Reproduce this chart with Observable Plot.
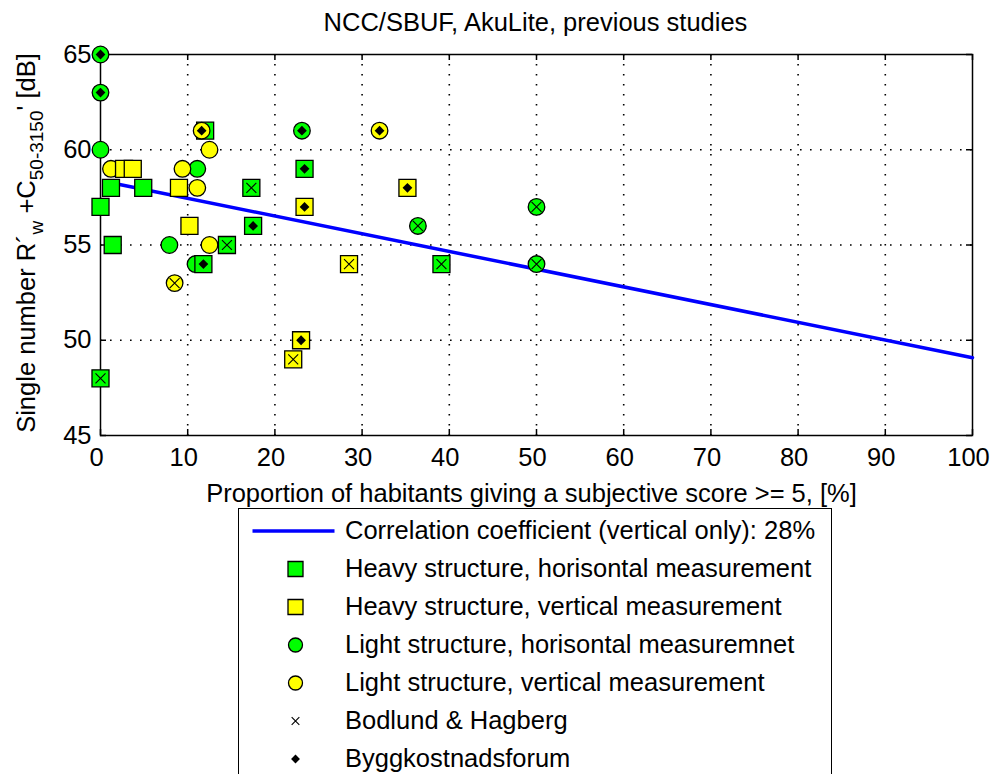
<!DOCTYPE html>
<html><head><meta charset="utf-8">
<script src="https://cdn.jsdelivr.net/npm/d3@7"></script>
<script src="https://cdn.jsdelivr.net/npm/@observablehq/plot@0.6"></script>
<style>
html,body{margin:0;padding:0;background:#fff;}
body{width:990px;height:774px;overflow:hidden;position:relative;font-family:"Liberation Sans",Arial,sans-serif;color:#000;}
#title{position:absolute;left:0;top:0;width:990px;height:44px;line-height:44px;text-align:center;font-size:25.5px;padding-left:81px;box-sizing:border-box;}
#chart{position:absolute;left:0;top:44px;}
#legend{position:absolute;left:238px;top:508px;width:594px;height:300px;border:1.5px solid #000;box-sizing:border-box;background:#fff;}
.row{position:absolute;left:0;height:38px;display:flex;align-items:center;font-size:25.5px;white-space:nowrap;}
.row svg{flex:none;display:block;}
</style></head>
<body>
<div id="title"></div>
<div id="chart"></div>
<div id="legend"></div>
<script>
// ---- text ----
const titleText = "NCC/SBUF, AkuLite, previous studies";
const xLabel = "Proportion of habitants giving a subjective score >= 5, [%]";
const yLabelParts = ["Single number R´", "w", " +C", "50-3150", "' [dB]"];
const legendNames = [
  "Correlation coefficient (vertical only): 28%",
  "Heavy structure, horisontal measurement",
  "Heavy structure, vertical measurement",
  "Light structure, horisontal measuremnet",
  "Light structure, vertical measurement",
  "Bodlund & Hagberg",
  "Byggkostnadsforum"
];
// ---- ticks ----
const xTicks = [0,10,20,30,40,50,60,70,80,90,100];
const yTicks = [45,50,55,60,65];
// ---- data (source: "-" none, "B" Bodlund & Hagberg, "K" Byggkostnadsforum) ----
const heavyHorizX   = [0, 1.2, 1.4, 4.9, 0, 17.3, 14.5, 39.1, 17.5, 11.8, 23.4, 12.0];
const heavyHorizY   = [57, 58, 55, 58, 48, 58, 55, 54, 56, 54, 59, 61];
const heavyHorizSrc = ["-","-","-","-","B","B","B","B","K","K","K","K"];
const heavyVertX    = [2.7, 3.7, 9.0, 10.2, 28.5, 22.1, 23.4, 35.2, 23.0];
const heavyVertY    = [59, 59, 58, 56, 54, 49, 57, 58, 50];
const heavyVertSrc  = ["-","-","-","-","B","B","K","K","K"];
const lightHorizX   = [0, 11.1, 7.9, 10.9, 36.4, 50, 50, 0, 0, 23.1];
const lightHorizY   = [60, 59, 55, 54, 56, 57, 54, 65, 63, 61];
const lightHorizSrc = ["-","-","-","-","B","B","B","K","K","K"];
const lightVertX    = [1.2, 9.4, 11.1, 12.5, 12.5, 8.5, 11.6, 32.0];
const lightVertY    = [59, 59, 58, 60, 55, 53, 61, 61];
const lightVertSrc  = ["-","-","-","-","-","B","K","K"];
// regression line (vertical only)
const lineX = [1.2, 100];
const lineY = [58.27, 49.08];

// ---- styles ----
const green = "#00ff00", yellow = "#ffff00", blue = "#0000ff";
function pts(xs, ys, ss){ return xs.map((x,i)=>({x, y: ys[i], src: ss[i]})); }
const groups = {
  hH: {data: pts(heavyHorizX, heavyHorizY, heavyHorizSrc), symbol:"square", r:9.6, fill:green},
  hV: {data: pts(heavyVertX, heavyVertY, heavyVertSrc), symbol:"square", r:9.6, fill:yellow},
  lH: {data: pts(lightHorizX, lightHorizY, lightHorizSrc), symbol:"circle", r:8.3, fill:green},
  lV: {data: pts(lightVertX, lightVertY, lightVertSrc), symbol:"circle", r:8.3, fill:yellow}
};
const drawOrder = [
  ["-", ["lH","lV","hH","hV"]],
  ["B", ["hH","hV","lH","lV"]],
  ["K", ["hH","hV","lH","lV"]]
];
const overlay = {
  "B": {symbol:"times", r:4.6, stroke:"#000", strokeWidth:1.1, fill:"none"},
  "K": {symbol:"diamond2", r:4.4, fill:"#000", stroke:"none"}
};

const W=990, H=461, mT=10, mB=70, mL=100, mR=18;
const iH=H-mT-mB, iW=W-mL-mR;
const FS = 25.5;

const dotMarks = [];
for (const [src, keys] of drawOrder) {
  for (const k of keys) {
    const g = groups[k];
    const d = g.data.filter(p => p.src === src);
    if (!d.length) continue;
    dotMarks.push(Plot.dot(d, {x:"x", y:"y", symbol:g.symbol, r:g.r, fill:g.fill, stroke:"#000", strokeWidth:1.3}));
    if (overlay[src]) dotMarks.push(Plot.dot(d, {x:"x", y:"y", ...overlay[src]}));
  }
}

const gridStyle = {stroke:"#000", strokeOpacity:1, strokeWidth:1.6, strokeDasharray:"1.6,8.4"};
const chart = Plot.plot({
  width: W, height: H,
  marginTop: mT, marginBottom: mB, marginLeft: mL, marginRight: mR,
  style: {fontFamily:"'Liberation Sans', Arial, sans-serif", fontSize: FS+"px", color:"#000", background:"#fff", overflow:"visible"},
  x: {domain:[0,100]},
  y: {domain:[45,65]},
  marks: [
    Plot.gridX(xTicks.slice(1,-1), gridStyle),
    Plot.gridY(yTicks.slice(1,-1), gridStyle),
    Plot.frame({stroke:"#000", strokeWidth:1.5}),
    Plot.tickX(xTicks, {x:d=>d, insetTop:iH-6, stroke:"#000", strokeWidth:1.5}),
    Plot.tickX(xTicks, {x:d=>d, insetBottom:iH-6, stroke:"#000", strokeWidth:1.5}),
    Plot.tickY(yTicks, {y:d=>d, insetRight:iW-6, stroke:"#000", strokeWidth:1.5}),
    Plot.tickY(yTicks, {y:d=>d, insetLeft:iW-6, stroke:"#000", strokeWidth:1.5}),
    Plot.axisX(xTicks, {tickSize:0, tickPadding:12, dx:-4, fontSize:FS, label:null}),
    Plot.axisY(yTicks, {tickSize:0, tickPadding:9, fontSize:FS, label:null}),
    Plot.text([xLabel], {text:d=>d, frameAnchor:"bottom", dy:58, dx:-5, fontSize:FS, lineAnchor:"middle"}),
    Plot.line(lineX.map((x,i)=>({x, y: lineY[i]})), {x:"x", y:"y", stroke:blue, strokeWidth:3.5}),
    ...dotMarks
  ]
});
document.getElementById("chart").appendChild(chart);

// y label with subscripts
const yl = d3.select(chart).append("text")
  .attr("transform", `translate(26,${243-44}) rotate(-90)`)
  .attr("text-anchor","middle")
  .attr("dominant-baseline","central")
  .attr("font-size", FS)
  .attr("fill","#000");
yLabelParts.forEach((t,i) => {
  const ts = yl.append("tspan").text(t);
  if (i === 1 || i === 3) ts.attr("baseline-shift","sub").attr("font-size", 19);
});

document.getElementById("title").textContent = titleText;

// legend
const leg = document.getElementById("legend");
const ns = "http://www.w3.org/2000/svg";
const legendSym = [
  null,
  {symbol:d3.symbolSquare, size:15*15, fill:green},
  {symbol:d3.symbolSquare, size:15*15, fill:yellow},
  {symbol:d3.symbolCircle, size:Math.PI*7*7, fill:green},
  {symbol:d3.symbolCircle, size:Math.PI*7*7, fill:yellow},
  {symbol:d3.symbolTimes, size:40, fill:"none", stroke:"#000", sw:1.1},
  {symbol:d3.symbolDiamond2, size:50, fill:"#000", stroke:"none"}
];
legendNames.forEach((name, i) => {
  const row = document.createElement("div");
  row.className = "row";
  row.style.top = (2.5 + 38*i) + "px";
  const s = d3.create("svg").attr("width",106).attr("height",38);
  if (i === 0) {
    s.append("line").attr("x1",13.5).attr("x2",95.5).attr("y1",19).attr("y2",19).attr("stroke",blue).attr("stroke-width",3.5);
  } else {
    const m = legendSym[i];
    s.append("path").attr("transform","translate(56.5,19)")
      .attr("d", d3.symbol(m.symbol, m.size)())
      .attr("fill", m.fill)
      .attr("stroke", m.stroke || "#000")
      .attr("stroke-width", m.sw || 1.3);
  }
  row.appendChild(s.node());
  const sp = document.createElement("span");
  sp.textContent = name;
  row.appendChild(sp);
  leg.appendChild(row);
});
</script>
</body></html>
